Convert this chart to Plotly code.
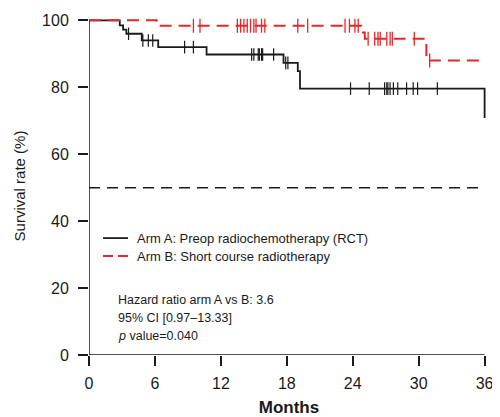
import numpy as np
import plotly.graph_objects as go

# ---------------- data ----------------
# Arm A (black, solid): Kaplan-Meier step points (months, survival %)
times_A = [0, 2.8, 3.1, 3.4, 4.8, 6.3, 10.7, 17.7, 19.0, 19.2, 36]
surv_A = [100, 98.5, 97.2, 96.0, 94.0, 92.0, 89.8, 87.3, 84.8, 79.6, 70.8]
censor_A = [3.6, 4.9, 5.4, 5.8, 8.7, 9.5, 14.8, 15.0, 15.4, 15.5, 15.7, 15.8,
            16.8, 17.9, 18.1, 23.8, 25.5, 26.9, 27.1, 27.2, 27.4, 27.7, 28.1,
            28.9, 29.5, 29.9, 31.7]

# Arm B (red, dashed)
times_B = [0, 6.15, 24.8, 25.1, 30.7, 36]
surv_B = [100, 98.4, 96.4, 94.5, 88.0, 88.0]
censor_B = [9.5, 10.1, 13.5, 13.8, 14.1, 14.4, 14.7, 15.0, 15.2, 15.7, 16.0,
            19.0, 19.9, 23.3, 23.7, 24.2, 24.5, 25.4, 26.0, 26.3, 26.5, 27.1,
            27.4, 27.6, 29.6, 31.0]

median_line = 50
x_ticks = [0, 6, 12, 18, 24, 30, 36]
y_ticks = [0, 20, 40, 60, 80, 100]

name_A = "Arm A: Preop radiochemotherapy (RCT)"
name_B = "Arm B: Short course radiotherapy"
stats_lines = ["Hazard ratio arm A vs B: 3.6",
               "95% CI [0.97\u201313.33]",
               "<i>p</i> value=0.040"]

FONT = "Liberation Sans, Arial, sans-serif"
RED = "#e8262a"
BLACK = "#1a1a1a"

# plot-area geometry (px) used to place the hand-drawn legend
PW, PH = 400.4, 338.35


def level_at(times, surv, t):
    idx = np.searchsorted(np.array(times), t, side="right") - 1
    return float(np.array(surv)[idx])


fig = go.Figure()

# reference line at 50 %
fig.add_trace(go.Scatter(x=[0, 36], y=[median_line, median_line], mode="lines",
                         line=dict(color=BLACK, width=1.5, dash="11px,7px"),
                         showlegend=False, hoverinfo="skip"))

fig.add_trace(go.Scatter(x=times_A, y=surv_A, mode="lines", line_shape="hv",
                         line=dict(color=BLACK, width=1.8), name=name_A))
fig.add_trace(go.Scatter(x=times_B, y=surv_B, mode="lines", line_shape="hv",
                         line=dict(color=RED, width=2, dash="12px,7px"), name=name_B))

fig.add_trace(go.Scatter(x=censor_A, y=[level_at(times_A, surv_A, t) for t in censor_A],
                         mode="markers", showlegend=False,
                         marker=dict(symbol="line-ns", size=9,
                                     line=dict(color=BLACK, width=1.2))))
fig.add_trace(go.Scatter(x=censor_B, y=[level_at(times_B, surv_B, t) for t in censor_B],
                         mode="markers", showlegend=False,
                         marker=dict(symbol="line-ns", size=10,
                                     line=dict(color=RED, width=1.3))))

# axis lines as shapes so they end exactly at 36 / 100
fig.add_shape(type="line", xref="x", yref="y", x0=0, x1=0, y0=0, y1=100,
              line=dict(color=BLACK, width=1.5))
fig.add_shape(type="line", xref="x", yref="y", x0=0, x1=36, y0=0, y1=0,
              line=dict(color=BLACK, width=1.5))

# hand-drawn legend
fig.add_shape(type="line", xref="paper", yref="paper", x0=14 / PW, x1=39 / PW,
              y0=117 / PH, y1=117 / PH, line=dict(color=BLACK, width=1.8))
fig.add_shape(type="line", xref="paper", yref="paper", x0=14 / PW, x1=39 / PW,
              y0=99 / PH, y1=99 / PH, line=dict(color=RED, width=2, dash="10px,5px"))
for yy, txt in [(117, name_A), (99, name_B)]:
    fig.add_annotation(x=46 / PW, y=yy / PH, xref="paper", yref="paper", text=txt,
                       showarrow=False, xanchor="left", yanchor="middle",
                       font=dict(family=FONT, size=13, color=BLACK))

for i, txt in enumerate(stats_lines):
    fig.add_annotation(x=2.45, y=16.4 - i * 5.35, xref="x", yref="y", text=txt,
                       showarrow=False, xanchor="left", yanchor="middle",
                       font=dict(family=FONT, size=12.5, color=BLACK))

fig.update_layout(
    width=492, height=409,
    margin=dict(l=81, r=10.6, t=8.65, b=62, autoexpand=False),
    paper_bgcolor="white", plot_bgcolor="white",
    font=dict(family=FONT, color=BLACK),
    showlegend=False,
)
fig.update_xaxes(range=[0, 36.4], tickvals=x_ticks, ticktext=[str(v) for v in x_ticks],
                 ticks="outside", ticklen=10, tickwidth=1.5, tickcolor=BLACK,
                 showgrid=False, zeroline=False, showline=False, automargin=False,
                 ticklabelstandoff=4,
                 tickfont=dict(size=16, family=FONT),
                 title=dict(text="<b>Months</b>", font=dict(size=17, family=FONT), standoff=15))
fig.update_yaxes(range=[0, 101], tickvals=y_ticks, ticktext=[str(v) for v in y_ticks],
                 ticks="outside", ticklen=10, tickwidth=1.5, tickcolor=BLACK,
                 showgrid=False, zeroline=False, showline=False, automargin=False,
                 ticklabelstandoff=6,
                 tickfont=dict(size=16, family=FONT),
                 title=dict(text="Survival rate (%)", font=dict(size=15, family=FONT), standoff=12))

fig.write_html("out.html")
